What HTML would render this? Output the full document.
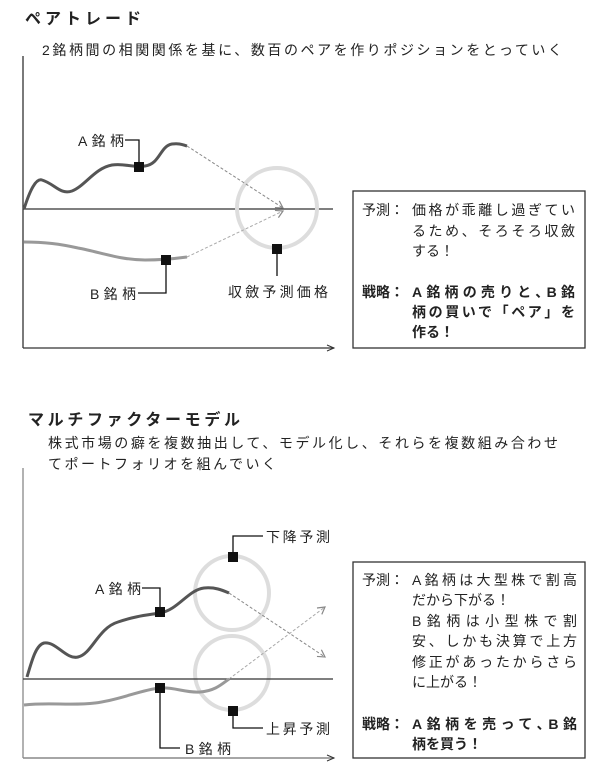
<!DOCTYPE html>
<html><head><meta charset="utf-8"><style>
html,body{margin:0;padding:0;background:#fff;}
svg{display:block}
text{font-family:"Liberation Sans","Noto Sans CJK JP",sans-serif;fill:#222;}
.b{font-weight:bold}
</style></head><body>
<svg width="600" height="779" viewBox="0 0 600 779" xmlns="http://www.w3.org/2000/svg">
<defs>
<marker id="ar" markerWidth="10" markerHeight="10" refX="8" refY="5" orient="auto" markerUnits="userSpaceOnUse">
<path d="M1,1 L8,5 L1,9" fill="none" stroke="#888" stroke-width="1.2"/></marker>
<marker id="ax" markerWidth="10" markerHeight="10" refX="8" refY="5" orient="auto" markerUnits="userSpaceOnUse">
<path d="M1,2 L8,5 L1,8" fill="none" stroke="#333" stroke-width="1"/></marker>
</defs>
<!-- TOP -->
<text x="25" y="24" font-size="16" class="b" textLength="116">ペアトレード</text>
<text x="42" y="55" font-size="14" textLength="520">2銘柄間の相関関係を基に、数百のペアを作りポジションをとっていく</text>
<line x1="23" y1="56" x2="23" y2="348" stroke="#333" stroke-width="1.3"/>
<line x1="23" y1="348" x2="334" y2="348" stroke="#333" stroke-width="1.3" marker-end="url(#ax)"/>
<line x1="23" y1="209" x2="333" y2="209" stroke="#333" stroke-width="1.3"/>
<circle cx="277" cy="208" r="40" fill="none" stroke="#ddd" stroke-width="4"/>
<path d="M24,209 C30,190 36,178 42,180 C55,184 60,195 72,191 C85,186 95,168 112,165 C125,163 132,168 145,166 C160,164 160,146 172,144 C180,143 183,145 187,146" fill="none" stroke="#555" stroke-width="3"/>
<path d="M24,242 C45,242 60,244 78,248 C100,252 120,260 145,260 C160,260 172,259 187,257" fill="none" stroke="#999" stroke-width="3"/>
<line x1="187" y1="146" x2="283" y2="208" stroke="#888" stroke-width="1" stroke-dasharray="3,2" marker-end="url(#ar)"/>
<line x1="187" y1="257" x2="283" y2="211" stroke="#aaa" stroke-width="1" stroke-dasharray="3,2" marker-end="url(#ar)"/>
<polyline points="125,140 139,140 139,167" fill="none" stroke="#111" stroke-width="1.3"/>
<rect x="134" y="162" width="10" height="10" fill="#111"/>
<text x="78" y="146" font-size="14" textLength="46">A銘柄</text>
<polyline points="138,293 166,293 166,260" fill="none" stroke="#111" stroke-width="1.3"/>
<rect x="161" y="255" width="10" height="10" fill="#111"/>
<text x="90" y="299" font-size="14" textLength="46">B銘柄</text>
<line x1="277" y1="249" x2="277" y2="276" stroke="#111" stroke-width="1.3"/>
<rect x="272" y="244" width="10" height="10" fill="#111"/>
<text x="228" y="297" font-size="14" textLength="100">収斂予測価格</text>
<rect x="353" y="191" width="232" height="157" fill="#fff" stroke="#333" stroke-width="1.3"/>
<text font-size="14">
<tspan x="362" y="215">予測：</tspan><tspan x="412" y="215" textLength="163">価格が乖離し過ぎてい</tspan>
<tspan x="412" y="236" textLength="163">るため、そろそろ収斂</tspan>
<tspan x="412" y="256">する！</tspan></text>
<text font-size="14" class="b">
<tspan x="362" y="297">戦略：</tspan><tspan x="412" y="297" textLength="163">A銘柄の売りと､B銘</tspan>
<tspan x="412" y="317" textLength="163">柄の買いで「ペア」を</tspan>
<tspan x="412" y="337">作る！</tspan></text>

<!-- BOTTOM -->
<text x="28" y="425" font-size="16" class="b" textLength="212">マルチファクターモデル</text>
<text x="48" y="448" font-size="14" textLength="510">株式市場の癖を複数抽出して、モデル化し、それらを複数組み合わせ</text>
<text x="48" y="469" font-size="14" textLength="228">てポートフォリオを組んでいく</text>
<line x1="23" y1="468" x2="23" y2="758" stroke="#999" stroke-width="1.5"/>
<line x1="23" y1="758" x2="334" y2="758" stroke="#888" stroke-width="1.5" marker-end="url(#ax)"/>
<circle cx="232" cy="593" r="37" fill="none" stroke="#ddd" stroke-width="4"/>
<circle cx="232" cy="673" r="37" fill="none" stroke="#ddd" stroke-width="4"/>
<line x1="23" y1="679" x2="333" y2="679" stroke="#333" stroke-width="1.3"/>
<path d="M27,677 C32,660 36,645 44,643 C56,641 66,660 78,657 C92,654 98,628 118,622 C135,616 148,615 160,613 C178,610 188,590 204,588 C215,587 222,590 229,593" fill="none" stroke="#555" stroke-width="3"/>
<path d="M24,705 C50,702 70,706 95,703 C120,700 140,690 160,688 C175,687 185,693 200,692 C215,691 222,684 229,679" fill="none" stroke="#999" stroke-width="3"/>
<line x1="229" y1="593" x2="325" y2="657" stroke="#888" stroke-width="1" stroke-dasharray="3,2" marker-end="url(#ar)"/>
<line x1="229" y1="679" x2="325" y2="607" stroke="#aaa" stroke-width="1" stroke-dasharray="3,2" marker-end="url(#ar)"/>
<polyline points="142,588 160,588 160,612" fill="none" stroke="#111" stroke-width="1.3"/>
<rect x="155" y="607" width="10" height="10" fill="#111"/>
<text x="95" y="594" font-size="14" textLength="46">A銘柄</text>
<polyline points="160,688 160,748 180,748" fill="none" stroke="#111" stroke-width="1.3"/>
<rect x="155" y="683" width="10" height="10" fill="#111"/>
<text x="185" y="754" font-size="14" textLength="46">B銘柄</text>
<polyline points="233,557 233,536 263,536" fill="none" stroke="#111" stroke-width="1.3"/>
<rect x="228" y="552" width="10" height="10" fill="#111"/>
<text x="266" y="542" font-size="14" textLength="64">下降予測</text>
<polyline points="233,711 233,728 263,728" fill="none" stroke="#111" stroke-width="1.3"/>
<rect x="228" y="706" width="10" height="10" fill="#111"/>
<text x="266" y="734" font-size="14" textLength="64">上昇予測</text>
<rect x="353" y="562" width="232" height="196" fill="#fff" stroke="#333" stroke-width="1.3"/>
<text font-size="14">
<tspan x="362" y="585">予測：</tspan><tspan x="412" y="585" textLength="165">A銘柄は大型株で割高</tspan>
<tspan x="412" y="605">だから下がる！</tspan>
<tspan x="412" y="626" textLength="165">B銘柄は小型株で割</tspan>
<tspan x="412" y="646" textLength="165">安、しかも決算で上方</tspan>
<tspan x="412" y="667" textLength="165">修正があったからさら</tspan>
<tspan x="412" y="687">に上がる！</tspan></text>
<text font-size="14" class="b">
<tspan x="362" y="729">戦略：</tspan><tspan x="412" y="729" textLength="165">A銘柄を売って､B銘</tspan>
<tspan x="412" y="749">柄を買う！</tspan></text>
</svg>
</body></html>
